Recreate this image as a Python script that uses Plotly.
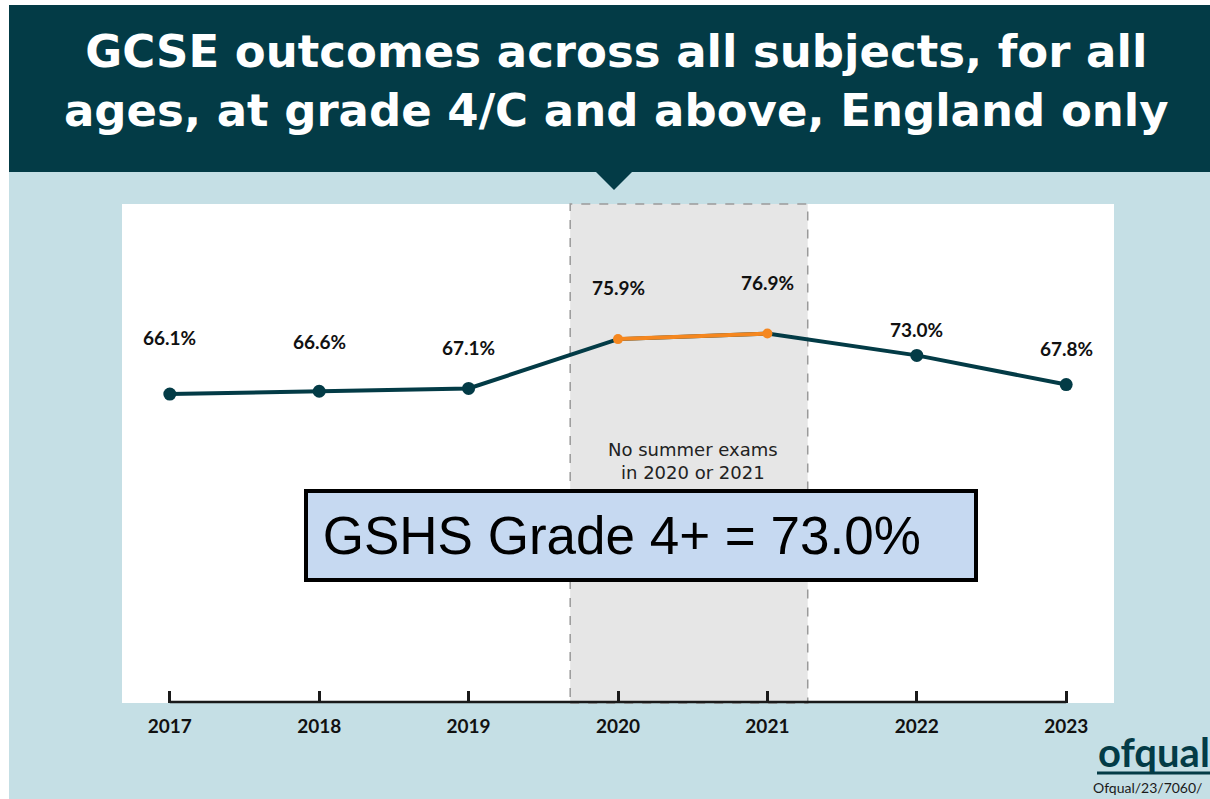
import plotly.graph_objects as go

# ---- data ----
years = [2017, 2018, 2019, 2020, 2021, 2022, 2023]
pass_rate = [66.1, 66.6, 67.1, 75.9, 76.9, 73.0, 67.8]
label_text = ["66.1%", "66.6%", "67.1%", "75.9%", "76.9%", "73.0%", "67.8%"]
covid_years = [2020, 2021]
covid_rate = [75.9, 76.9]
tick_labels = ["2017", "2018", "2019", "2020", "2021", "2022", "2023"]

# label vertical offsets (styling, px)
label_offsets = [57, 50, 41, 52, 51, 26, 36]

W, H = 1210, 799
L, R, T, B = 122, 1114, 204, 703  # plot area in pixels


def px_x(p):
    return (p - L) / (R - L)


def px_y(p):
    return (B - p) / (B - T)


DARK = "#033b46"
ORANGE = "#f5871f"
BLUE_BG = "#c5dfe5"

fig = go.Figure()

fig.add_trace(go.Scatter(
    x=years, y=pass_rate, mode="lines+markers",
    line=dict(color=DARK, width=4),
    marker=dict(color=DARK, opacity=1, line=dict(width=0),
                size=[0 if y in covid_years else 13 for y in years]),
    hoverinfo="skip", showlegend=False,
))
fig.add_trace(go.Scatter(
    x=covid_years, y=covid_rate, mode="lines+markers",
    line=dict(color=ORANGE, width=4),
    marker=dict(color=ORANGE, size=10, opacity=1, line=dict(width=0)),
    hoverinfo="skip", showlegend=False,
))

shapes = [
    # light blue page background
    dict(type="rect", xref="paper", yref="paper", x0=px_x(9), x1=px_x(1215),
         y0=px_y(172), y1=px_y(805), fillcolor=BLUE_BG, line_width=0, layer="below"),
    # header band
    dict(type="rect", xref="paper", yref="paper", x0=px_x(9), x1=px_x(1215),
         y0=px_y(5), y1=px_y(172), fillcolor=DARK, line_width=0, layer="below"),
    # header pointer
    dict(type="path", xref="paper", yref="paper",
         path=f"M {px_x(595)},{px_y(171)} L {px_x(633)},{px_y(171)} L {px_x(614)},{px_y(190)} Z",
         fillcolor=DARK, line_width=0, layer="below"),
    # white chart panel
    dict(type="rect", xref="paper", yref="paper", x0=0, x1=1, y0=0, y1=1,
         fillcolor="white", line_width=0, layer="below"),
    # no-exam years shading
    dict(type="rect", xref="x", yref="paper", x0=2019.68, x1=2021.27, y0=0, y1=1,
         fillcolor="#e6e6e6", line=dict(color="#9a9a9a", width=1.5, dash="dash"), layer="below"),
    # axis baseline between first and last year
    dict(type="line", xref="x", yref="paper", x0=years[0], x1=years[-1], y0=0.002, y1=0.002,
         line=dict(color="#1a1a1a", width=2.5)),
    # logo underline
    dict(type="line", xref="paper", yref="paper", x0=px_x(1097), x1=px_x(1215),
         y0=px_y(773), y1=px_y(773), line=dict(color=DARK, width=3)),
]

annotations = []
for yr, v, t, off in zip(years, pass_rate, label_text, label_offsets):
    annotations.append(dict(
        x=yr, y=v, xref="x", yref="y", text=t, showarrow=False, yshift=off,
        font=dict(family="Lato", size=19, color="#111111", weight="bold"),
    ))

annotations += [
    dict(xref="paper", yref="paper", x=px_x(616), y=px_y(81),
         text="GCSE outcomes across all subjects, for all<br>ages, at grade 4/C and above, England only",
         showarrow=False, xanchor="center", yanchor="middle",
         font=dict(family="DejaVu Sans", size=45, color="white", weight="bold")),
    dict(x=2020.5, y=px_y(461), xref="x", yref="paper",
         text="No summer exams<br>in 2020 or 2021", showarrow=False,
         font=dict(family="DejaVu Sans", size=18, color="#222222")),
    dict(xref="paper", yref="paper", x=px_x(641), y=px_y(535),
         text="\u00a0GSHS Grade 4+ = 73.0%", showarrow=False, align="left",
         width=666, height=85, bgcolor="#c6d9f1", bordercolor="#000000", borderwidth=4,
         borderpad=0, xanchor="center", yanchor="middle",
         font=dict(family="Liberation Sans", size=53, color="#000000")),
    dict(xref="paper", yref="paper", x=px_x(1096), y=px_y(752),
         text="ofqual", showarrow=False, xanchor="left", yanchor="middle",
         font=dict(family="Lato", size=40, color=DARK, weight="bold")),
    dict(xref="paper", yref="paper", x=px_x(1091), y=px_y(787),
         text="Ofqual/23/7060/", showarrow=False, xanchor="left", yanchor="middle",
         font=dict(family="Lato", size=14, color="#1a1a1a")),
]

fig.update_layout(
    width=W, height=H,
    margin=dict(l=L, r=W - R, t=T, b=H - B, pad=0),
    paper_bgcolor="white",
    plot_bgcolor="rgba(0,0,0,0)",
    shapes=shapes,
    annotations=annotations,
    showlegend=False,
    xaxis=dict(
        range=[2016.68, 2023.32], tickmode="array", tickvals=years, ticktext=tick_labels,
        ticks="inside", ticklen=12, tickwidth=2.5, tickcolor="#1a1a1a",
        showline=False, showgrid=False, zeroline=False, fixedrange=True,
        tickfont=dict(family="Lato", size=19, color="#111111", weight="bold"),
        ticklabelstandoff=10,
    ),
    yaxis=dict(range=[11, 100], visible=False, showgrid=False, zeroline=False, fixedrange=True),
)

fig.write_html("out.html", config={"displayModeBar": False},
               post_script="document.body.style.margin='0';document.body.style.overflow='hidden';")
